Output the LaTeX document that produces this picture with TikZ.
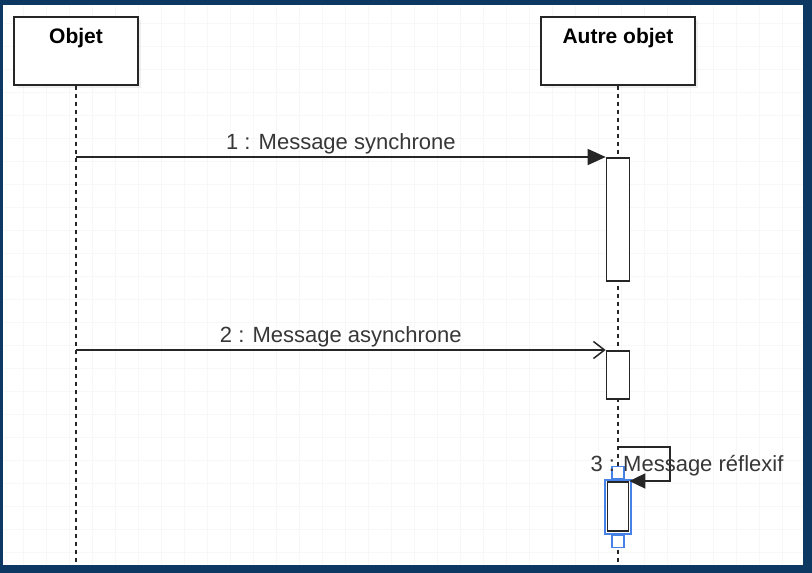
\documentclass[tikz,border=0pt]{standalone}
\usepackage{fontspec}
\setmainfont{Liberation Sans}
\usetikzlibrary{arrows.meta,shadows}

\definecolor{frameblue}{RGB}{12,56,98}
\definecolor{selblue}{RGB}{70,130,230}
\definecolor{msgtext}{RGB}{55,55,55}

\tikzset{
    objbox/.style={draw=black!85, fill=white, line width=1.5pt, minimum width=124pt,
        minimum height=68pt, anchor=north, drop shadow={opacity=0.12, shadow xshift=3pt, shadow yshift=-3pt}},
    lifeline/.style={black!85, line width=1.5pt, dash pattern=on 4pt off 4pt},
    activbox/.style={draw=black!85, fill=white, line width=1.6pt, minimum width=23pt, anchor=north, inner sep=0pt},
    msg/.style={black!85, line width=1.5pt},
    msglabel/.style={text=msgtext, inner sep=2pt}
}

\begin{document}
\begin{tikzpicture}[x=1pt, y=-1pt, font=\fontsize{22}{26}\selectfont]
        \useasboundingbox (0,0) rectangle (812,573);
        \fill[frameblue] (0,0) rectangle (812,573);
        \fill[white] (3,5) rectangle (803,565);
        \draw[black!3, line width=0.6pt, step=23pt] (4,6) grid (802,564);

        % Objets
        \node[objbox] (objet) at (76,16) {};
        \node[font=\fontsize{21}{25}\selectfont\bfseries] (objetname) at ([yshift=-22pt]objet.north) {Objet};
        \node[objbox, minimum width=154pt] (autre) at (618,16) {};
        \node[font=\fontsize{21}{25}\selectfont\bfseries] (autrename) at ([yshift=-22pt]autre.north) {Autre objet};

        \coordinate (bas) at (0,565);
        \draw[lifeline] (objet.south) -- (objet.south |- bas);
        \draw[lifeline] (autre.south) -- (autre.south |- bas);

        % Activations
        \node[activbox, minimum height=123pt] (act1) at (618,157) {};
        \node[activbox, minimum height=48pt] (act2) at (618,350) {};
        \node[activbox, minimum height=49pt, minimum width=21pt] (act3) at (618,481) {};

        % selection autour de act3
        \node[draw=selblue, line width=1.5pt, minimum width=26pt, minimum height=54pt, anchor=north, inner sep=0pt] (sel) at (618,479) {};
        \node[draw=selblue, fill=white, line width=1.2pt, minimum width=12pt, minimum height=12pt, anchor=south, inner sep=0pt] (haut) at (sel.north) {};
        \node[draw=selblue, fill=white, line width=1.2pt, minimum width=12pt, minimum height=12pt, anchor=north, inner sep=0pt] (bas3) at (sel.south) {};

        % Messages
        \coordinate (m1) at (objet.south |- act1.north);
        \draw[msg, -{Triangle[length=18pt, width=16pt]}] (m1) -- (act1.north west)
            node[msglabel, midway, above] (lab1) {1 : Message synchrone};

        \coordinate (m2) at (objet.south |- act2.north);
        \draw[msg, -{Straight Barb[length=11pt, width=17pt, line width=1.5pt]}] (m2) -- (act2.north west)
            node[msglabel, midway, above] (lab2) {2 : Message asynchrone};

        \coordinate (m3) at (618,447);
        \draw[msg, -{Triangle[length=16pt, width=15pt]}] (m3) -- ++(52,0) |- (act3.north east);
        \node[msglabel] (lab3) at (687,466) {3 : Message réflexif};
    \end{tikzpicture}
\end{document}
